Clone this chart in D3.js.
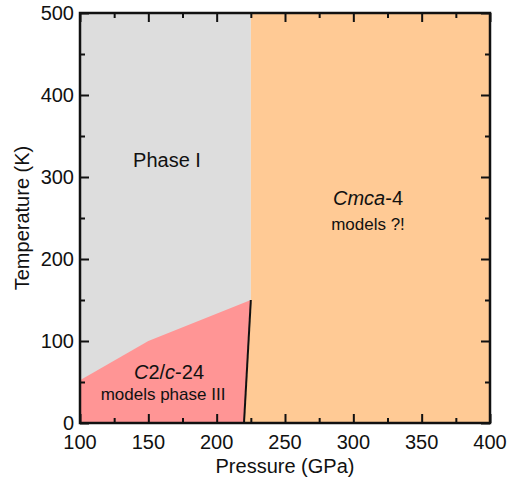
<!DOCTYPE html>
<html><head><meta charset="utf-8">
<script src="https://cdn.jsdelivr.net/npm/d3@7"></script>
<style>body{margin:0;background:#fff}svg{display:block}text{font-family:"Liberation Sans",Arial,sans-serif;fill:#111}</style>
</head><body><svg id="c" width="507" height="483"></svg>
<script>
// Data
const xTicks = [100,150,200,250,300,350,400];
const yTicks = [0,100,200,300,400,500];
const phaseIRegion = [[100,0],[100,500],[225,500],[225,150],[220,0]];
const c2cRegion = [[100,0],[100,52],[150,100],[225,150],[220,0]];
const cmcaRegion = [[220,0],[225,150],[225,500],[400,500],[400,0]];
const boundary = [[220,0],[225,150]];

const svg = d3.select("#c");
const x = d3.scaleLinear().domain([100,400]).range([80,490]);
const y = d3.scaleLinear().domain([0,500]).range([423,13]);
const line = d3.line().x(d=>x(d[0])).y(d=>y(d[1]));

svg.append("path").attr("d", line(phaseIRegion)+"Z").attr("fill","#dddddd");
svg.append("path").attr("d", line(c2cRegion)+"Z").attr("fill","#ff9595");
svg.append("path").attr("d", line(cmcaRegion)+"Z").attr("fill","#ffca95");
svg.append("path").attr("d", line(boundary)).attr("stroke","#111").attr("stroke-width",2).attr("fill","none");

// axes with inward ticks
const minorX = d3.range(100,401,25).filter(v=>v%50!==0);
const minorY = d3.range(0,501,50).filter(v=>v%100!==0);
function axisPair(gen, scale, major, minor, transform){
  const g = svg.append("g").attr("transform",transform);
  g.call(gen(scale).tickValues(major).tickSize(-9).tickFormat(""));
  g.append("g").call(gen(scale).tickValues(minor).tickSize(-5).tickFormat(""));
  g.selectAll("path.domain").remove();
  g.selectAll("line").attr("stroke","#111").attr("stroke-width",2);
  return g;
}
axisPair(d3.axisBottom, x, xTicks, minorX, `translate(0,${y(0)})`);
axisPair(d3.axisTop, x, xTicks, minorX, `translate(0,${y(500)})`);
axisPair(d3.axisLeft, y, yTicks, minorY, `translate(${x(100)},0)`);
axisPair(d3.axisRight, y, yTicks, minorY, `translate(${x(400)},0)`);

svg.append("rect").attr("x",x(100)).attr("y",y(500)).attr("width",x(400)-x(100)).attr("height",y(0)-y(500))
  .attr("fill","none").attr("stroke","#111").attr("stroke-width",2.5);

// tick labels
svg.append("g").selectAll("text").data(xTicks).join("text")
  .attr("x",d=>x(d)).attr("y",449).attr("text-anchor","middle").attr("font-size",20).text(d=>d);
svg.append("g").selectAll("text").data(yTicks).join("text")
  .attr("x",74).attr("y",d=>y(d)+7).attr("text-anchor","end").attr("font-size",20).text(d=>d);

// axis titles
svg.append("text").attr("x",285).attr("y",473).attr("text-anchor","middle").attr("font-size",20).text("Pressure (GPa)");
svg.append("text").attr("transform","translate(29,218) rotate(-90)").attr("text-anchor","middle").attr("font-size",20).text("Temperature (K)");

// region labels
svg.append("text").attr("x",167).attr("y",167).attr("text-anchor","middle").attr("font-size",20).text("Phase I");
const t1 = svg.append("text").attr("x",368).attr("y",205).attr("text-anchor","middle").attr("font-size",20);
t1.append("tspan").attr("font-style","italic").text("Cmca");
t1.append("tspan").text("-4");
svg.append("text").attr("x",368).attr("y",230).attr("text-anchor","middle").attr("font-size",17).text("models ?!");
const t2 = svg.append("text").attr("x",169).attr("y",379).attr("text-anchor","middle").attr("font-size",20);
t2.append("tspan").attr("font-style","italic").text("C");
t2.append("tspan").text("2/");
t2.append("tspan").attr("font-style","italic").text("c");
t2.append("tspan").text("-24");
svg.append("text").attr("x",163).attr("y",400).attr("text-anchor","middle").attr("font-size",17).text("models phase III");
</script></body></html>
